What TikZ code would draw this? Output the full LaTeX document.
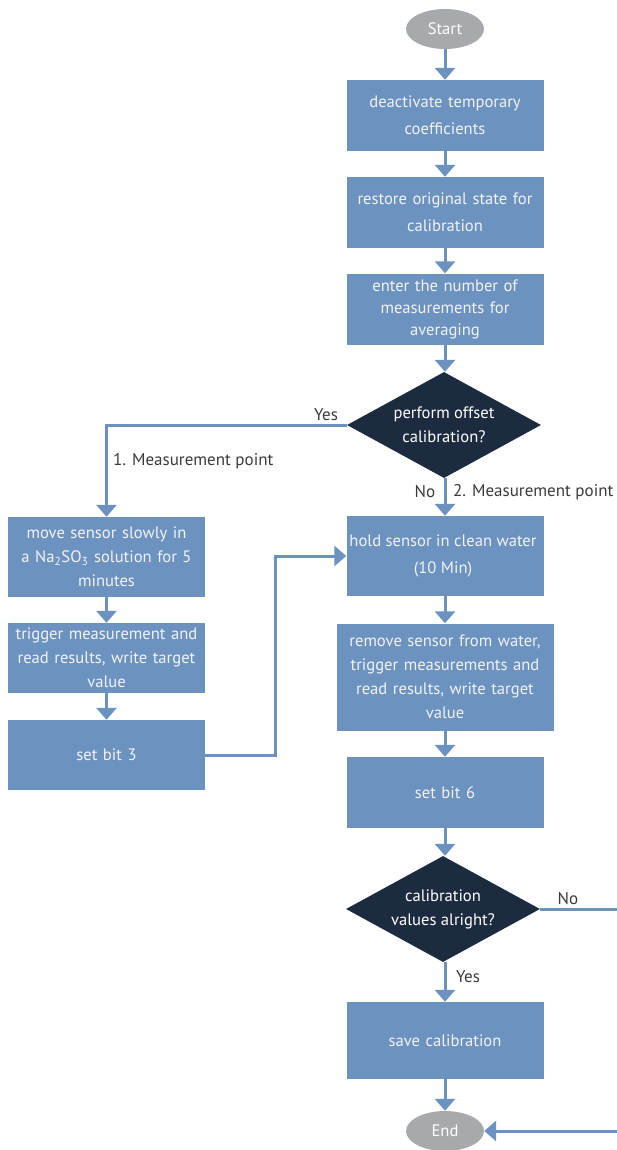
\documentclass[tikz,border=0pt]{standalone}
\usepackage{fontspec}
\setmainfont{PT Sans}
\usetikzlibrary{arrows.meta,shapes.geometric}
\definecolor{boxblue}{HTML}{6C93BF}
\definecolor{navy}{HTML}{1C2B40}
\definecolor{termgray}{HTML}{A7A9AC}
\definecolor{linecol}{HTML}{6C93BF}
\definecolor{labcol}{HTML}{3A3A3A}
\begin{document}
\begin{tikzpicture}[x=1pt,y=-1pt,
  every node/.style={font=\fontsize{16.6}{24}\selectfont, inner sep=0pt},
  wide/.style={font=\fontsize{16.6}{27}\selectfont},
  tight/.style={font=\fontsize{16.6}{22}\selectfont},
  procbox/.style={fill=boxblue, text=white!95!black, align=center, minimum width=197pt, minimum height=71pt, text width=196pt},
  terminal/.style={ellipse, fill=termgray, text=white, minimum width=78pt, minimum height=40pt},
  decision/.style={diamond, fill=navy, text=white, align=center, minimum width=194pt, minimum height=106pt, aspect=1.83},
  conn/.style={draw=linecol, line width=3pt, -{Triangle[width=20pt,length=12pt]}},
  lab/.style={text=labcol, font=\fontsize{17}{20}\selectfont}
]
\useasboundingbox (0,0) rectangle (616,1150);

\node[terminal] (start) at (445,29) {Start};
\node[procbox, wide] (b1) at (445,115.5) {deactivate temporary\\coefficients};
\node[procbox, wide, minimum height=71pt] (b2) at (445,212.5) {restore original state for\\calibration};
\node[procbox, tight] (b3) at (445,309) {enter the number of\\measurements for\\averaging};
\node[decision] (d1) at (444,425) {perform offset\\calibration?};

\node[procbox, minimum height=80pt] (l1) at (106.5,557) {move sensor slowly in\\a Na\textsubscript{2}SO\textsubscript{3} solution for 5\\minutes};
\node[procbox, minimum height=70pt] (l2) at (106.5,658) {trigger measurement and\\read results, write target\\value};
\node[procbox, minimum height=70pt] (l3) at (106.5,755) {set bit 3};

\node[procbox, minimum height=80pt] (r1) at (445,556) {};
\node[wide, text=white!95!black, align=center, anchor=north] (r1t) at (443,535) {hold sensor in clean water\\(10 Min)};
\node[procbox, minimum width=217pt, minimum height=107pt, text width=214pt] (r2) at (445,677) {remove sensor from water,\\trigger measurements and\\read results, write target\\value};
\node[procbox, minimum height=71pt] (r3) at (445,792.5) {set bit 6};
\node[decision] (d2) at (443,909) {calibration\\values alright?};
\node[procbox, minimum height=77pt] (save) at (445,1040.5) {save calibration};
\node[terminal] (end) at (445,1131) {End};

\draw[conn] (start) -- (b1);
\draw[conn] (b1) -- (b2);
\draw[conn] (b2) -- (b3);
\draw[conn] (b3) -- (d1.north -| b3.south);
\draw[conn] (d1.west) -| (l1.north);
\draw[conn] (d1.south -| r1.north) -- (r1.north);
\draw[conn] (l1) -- (l2);
\draw[conn] (l2) -- (l3);
\coordinate (jx) at (275,755);
\draw[conn] (l3.east) -- (jx) |- (r1.west);
\draw[conn] (r1) -- (r2);
\draw[conn] (r2) -- (r3);
\draw[conn] (r3) -- (d2.north -| r3.south);
\draw[conn] (d2.south -| save.north) -- (save.north);
\draw[conn] (save) -- (end);
\coordinate (rc) at (618,909);
\draw[conn] (d2.east) -- (rc) |- (end.east);

\node[lab] (yes1) at (326,415) {Yes};
\node[lab, anchor=west] (mp1) at (113,461) {1. Measurement point};
\node[lab] (no1) at (425,492) {No};
\node[lab, anchor=west] (mp2) at (453,492) {2. Measurement point};
\node[lab] (no2) at (568,899) {No};
\node[lab] (yes2) at (468,977) {Yes};
\end{tikzpicture}
\end{document}
